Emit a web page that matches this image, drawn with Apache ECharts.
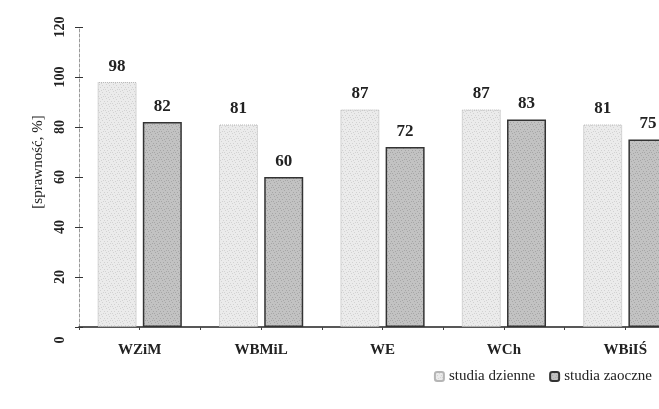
<!DOCTYPE html>
<html>
<head>
<meta charset="utf-8">
<script src="https://cdn.jsdelivr.net/npm/echarts@6/dist/echarts.min.js"></script>
<style>
  html, body { margin: 0; padding: 0; background: #fff; }
  #chart { width: 659px; height: 409px; }
</style>
</head>
<body>
<div id="chart"></div>
<script>
// Faculties and efficiency (%) for full-time and extramural students
const categories = ['WZiM', 'WBMiL', 'WE', 'WCh', 'WBiIŚ'];
const dzienne = [98, 81, 87, 87, 81];
const zaoczne = [82, 60, 72, 83, 75];
const yTicks = [0, 20, 40, 60, 80, 100, 120];

const serif = '"Liberation Serif", "DejaVu Serif", serif';

// Small stippled tile used as a printed-halftone bar fill
function stipple(base, dots) {
  const c = document.createElement('canvas');
  c.width = 7; c.height = 7;
  const g = c.getContext('2d');
  g.fillStyle = base;
  g.fillRect(0, 0, 7, 7);
  const pts = [[1, 0], [4, 1], [6, 3], [2, 3], [0, 5], [5, 5], [3, 6]];
  g.fillStyle = dots;
  pts.forEach(p => g.fillRect(p[0], p[1], 1, 1));
  return { image: c, repeat: 'repeat' };
}

const chart = echarts.init(document.getElementById('chart'));

chart.setOption({
  animation: false,
  backgroundColor: '#fff',
  // plot area runs past the right edge, so the last group is cut off
  grid: { left: 79, top: 27, width: 607, height: 300, outerBoundsMode: 'none', containLabel: false },
  legend: {
    right: 2,
    top: 364,
    itemWidth: 9,
    itemHeight: 9,
    itemGap: 14,
    textStyle: { fontFamily: serif, fontSize: 15, color: '#222' },
    data: ['studia dzienne', 'studia zaoczne']
  },
  xAxis: [{
    type: 'category',
    data: categories,
    axisLine: { lineStyle: { color: '#222', width: 1.5 } },
    axisTick: { show: true, length: 3, lineStyle: { color: '#444' } },
    axisLabel: { fontFamily: serif, fontWeight: 'bold', fontSize: 15, color: '#222', margin: 16 }
  }, {
    type: 'category',
    data: categories,
    position: 'bottom',
    axisLine: { show: false },
    axisTick: { show: true, alignWithLabel: true, length: 3, lineStyle: { color: '#444' } },
    axisLabel: { show: false }
  }],
  yAxis: [{
    type: 'value',
    min: yTicks[0],
    max: yTicks[yTicks.length - 1],
    interval: 20,
    name: '[sprawność, %]',
    nameLocation: 'middle',
    nameGap: 33,
    nameRotate: 90,
    nameTextStyle: { fontFamily: serif, fontSize: 15, color: '#222', padding: [0, 0, 0, 30] },
    splitLine: { show: false },
    axisLine: { show: true, lineStyle: { color: '#999', width: 1, type: [3, 2] } },
    axisTick: { show: true, length: 4, lineStyle: { color: '#333' } },
    axisLabel: {
      rotate: 90,
      margin: 12,
      fontFamily: serif, fontWeight: 'bold', fontSize: 14, color: '#222',
      formatter: v => (v === 0 ? '{z|0}' : String(v)),
      rich: { z: { fontFamily: serif, fontWeight: 'bold', fontSize: 14, color: '#222', padding: [0, 26, 0, 0] } }
    }
  }, {
    type: 'value',
    position: 'left',
    min: yTicks[0],
    max: yTicks[yTicks.length - 1],
    interval: 20,
    splitLine: { show: false },
    axisLine: { show: false },
    axisTick: { show: true, inside: true, length: 4, lineStyle: { color: '#333' } },
    axisLabel: { show: false }
  }],
  series: [{
    name: 'studia dzienne',
    type: 'bar',
    data: dzienne,
    barWidth: 39,
    barGap: '16%',
    itemStyle: { color: stipple('#ebebeb', '#d2d2d2'), borderColor: '#b5b5b5', borderWidth: 1, borderType: 'dotted' },
    label: {
      show: true, position: 'top', distance: 7,
      fontFamily: serif, fontWeight: 'bold', fontSize: 17, color: '#222'
    }
  }, {
    name: 'studia zaoczne',
    type: 'bar',
    data: zaoczne,
    barWidth: 39,
    itemStyle: { color: stipple('#c2c2c2', '#a6a6a6'), borderColor: '#333', borderWidth: 1.5 },
    label: {
      show: true, position: 'top', distance: 7,
      fontFamily: serif, fontWeight: 'bold', fontSize: 17, color: '#222'
    }
  }]
});
</script>
</body>
</html>
